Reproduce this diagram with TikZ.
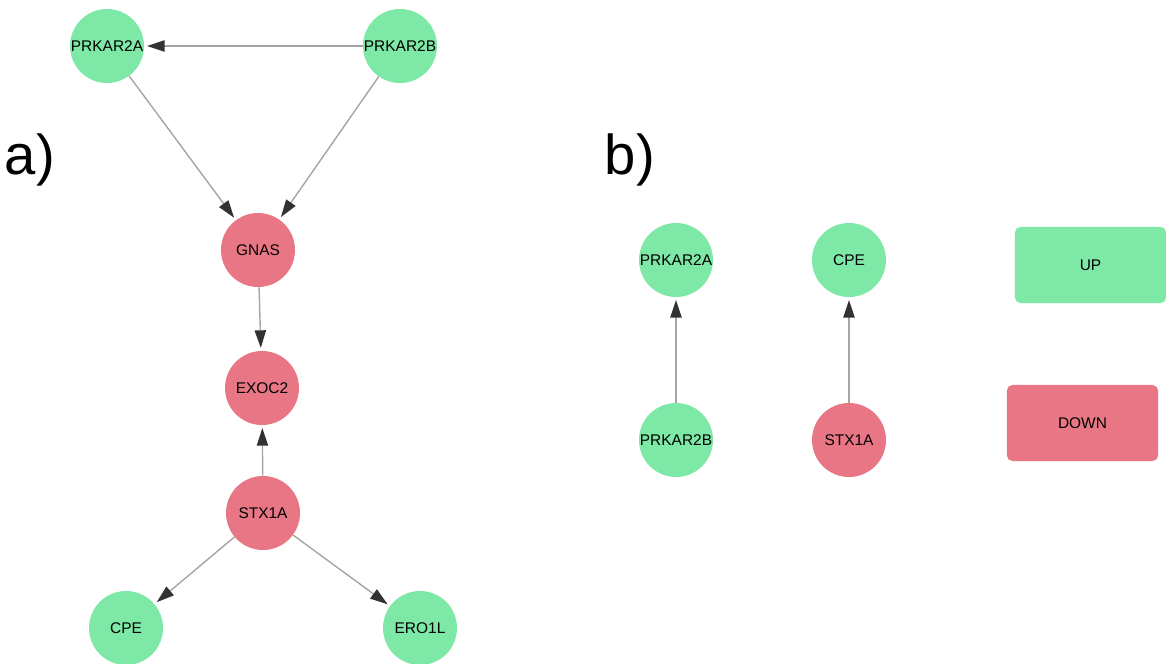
\documentclass[tikz,border=0pt]{standalone}
\usepackage{fontspec}
\setmainfont{Liberation Sans}
\usepackage{xcolor}
\usetikzlibrary{arrows.meta}
\usetikzlibrary{positioning}

\definecolor{upgreen}{RGB}{126,232,166}
\definecolor{downred}{RGB}{232,118,132}
\definecolor{edgegray}{RGB}{165,165,165}
\definecolor{tipgray}{RGB}{50,50,50}

\begin{document}
\begin{tikzpicture}[x=0.025cm, y=-0.025cm,
    gene/.style={circle, minimum size=1.85cm, inner sep=0pt,
      font=\fontsize{11}{12}\selectfont},
    up/.style={gene, fill=upgreen},
    down/.style={gene, fill=downred},
    legendbox/.style={rounded corners=4pt, minimum width=3.78cm,
      minimum height=1.9cm, font=\fontsize{11}{12}\selectfont},
    link/.style={draw=edgegray, line width=1pt,
      -{Triangle[length=12.5pt, width=8pt, color=tipgray]}, shorten >=2pt},
    panel/.style={font=\fontsize{40}{44}\selectfont}]

    \useasboundingbox (0, 0) rectangle (1166, 664);

    % panel a)
    \node [panel] (la) at (30, 160) {a)};

    \node [up] (a2a) at (107, 46) {PRKAR2A};
    \node [up] (a2b) at (400, 46) {PRKAR2B};
    \node [down] (gnas) at (258, 250) {GNAS};
    \node [down] (exoc) at (262, 388) {EXOC2};
    \node [down] (stxa) at (263, 513) {STX1A};
    \node [up] (cpea) at (126, 628) {CPE};
    \node [up] (ero) at (420, 628) {ERO1L};

    \draw [link] (a2b) -- (a2a);
    \draw [link] (a2a) -- (gnas);
    \draw [link] (a2b) -- (gnas);
    \draw [link] (gnas) -- (exoc);
    \draw [link] (stxa) -- (exoc);
    \draw [link] (stxa) -- (cpea);
    \draw [link] (stxa) -- (ero);

    % panel b)
    \node [panel] (lb) at (630, 160) {b)};

    \node [up] (b2a) at (676, 260) {PRKAR2A};
    \node [up] (b2b) at (676, 440) {PRKAR2B};
    \node [up] (cpeb) at (849, 260) {CPE};
    \node [down] (stxb) at (849, 440) {STX1A};

    \draw [link] (b2b) -- (b2a);
    \draw [link] (stxb) -- (cpeb);

    % legend
    \node [legendbox, fill=upgreen] (kup) at (1090.5, 265) {UP};
    \node [legendbox, fill=downred] (kdown) at (1082.5, 423) {DOWN};

  \end{tikzpicture}
\end{document}
